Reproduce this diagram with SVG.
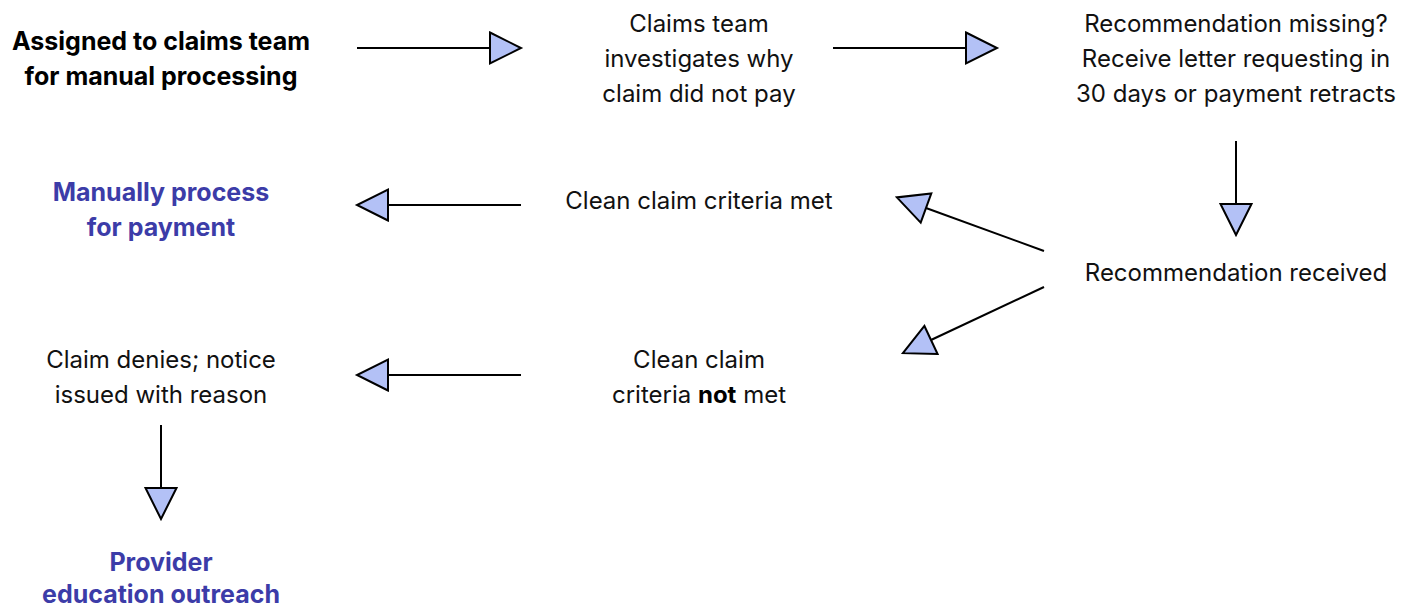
<svg xmlns="http://www.w3.org/2000/svg" width="1411" height="609" viewBox="0 0 1411 609">
<style>
text{font-family:Inter,"Liberation Sans",sans-serif;font-size:24px;fill:#111;text-anchor:middle}
.b{font-weight:700;fill:#000;font-size:25px}
.blue{font-weight:700;fill:#3c3ca8;font-size:25px}
tspan.b{font-size:24px}
.c{stroke:#000;stroke-width:2;fill:none}
</style>
<defs>
<marker id="ah" markerUnits="userSpaceOnUse" markerWidth="34" markerHeight="34" refX="0" refY="15.5" orient="auto" overflow="visible">
<path d="M0,0 L31,15.5 L0,31 Z" fill="#b3c1f6" stroke="#000" stroke-width="2" stroke-linejoin="miter"/>
</marker>
</defs>
<rect width="1411" height="609" fill="#fff"/>
<g id="connectors">
<line class="c" x1="357" y1="48" x2="490" y2="48" marker-end="url(#ah)"/>
<line class="c" x1="833" y1="48" x2="966" y2="48" marker-end="url(#ah)"/>
<line class="c" x1="1236" y1="141" x2="1236" y2="204" marker-end="url(#ah)"/>
<line class="c" x1="521" y1="205" x2="388" y2="205" marker-end="url(#ah)"/>
<line class="c" x1="521" y1="375" x2="388" y2="375" marker-end="url(#ah)"/>
<line class="c" x1="161" y1="425" x2="161" y2="488" marker-end="url(#ah)"/>
<line class="c" x1="1044" y1="251" x2="926" y2="208" marker-end="url(#ah)"/>
<line class="c" x1="1044" y1="287" x2="931" y2="340" marker-end="url(#ah)"/>
</g>
<g id="n1"><text class="b" x="161" y="50">Assigned to claims team</text><text class="b" x="161" y="85">for manual processing</text></g>
<g id="n2"><text x="699" y="32">Claims team</text><text x="699" y="67">investigates why</text><text x="699" y="102">claim did not pay</text></g>
<g id="n3"><text x="1236" y="32">Recommendation missing?</text><text x="1236" y="67">Receive letter requesting in</text><text x="1236" y="102">30 days or payment retracts</text></g>
<g id="n4"><text x="1236" y="281">Recommendation received</text></g>
<g id="n5"><text x="699" y="209">Clean claim criteria met</text></g>
<g id="n6"><text class="blue" x="161" y="201">Manually process</text><text class="blue" x="161" y="236">for payment</text></g>
<g id="n7"><text x="699" y="368">Clean claim</text><text x="699" y="403">criteria <tspan class="b">not</tspan> met</text></g>
<g id="n8"><text x="161" y="368">Claim denies; notice</text><text x="161" y="403">issued with reason</text></g>
<g id="n9"><text class="blue" x="161" y="571">Provider</text><text class="blue" x="161" y="603">education outreach</text></g>
</svg>
